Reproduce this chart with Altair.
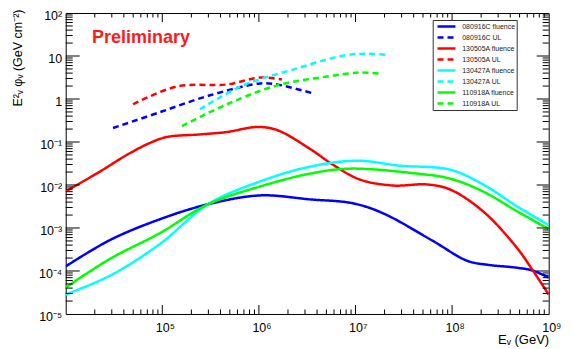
import altair as alt
import pandas as pd

W, H = 483, 301

series_names = ["080916C fluence", "080916C UL", "130505A fluence", "130505A UL",
                "130427A fluence", "130427A UL", "110918A fluence", "110918A UL"]
series_colors = ["#0000ff", "#0000ff", "#ff0000", "#ff0000",
                 "#00ffff", "#00ffff", "#00ff00", "#00ff00"]
series_dashes = [[1, 0], [6, 4], [1, 0], [6, 4], [1, 0], [6, 4], [1, 0], [6, 4]]

# ---- data (E in GeV, E^2 phi in GeV cm^-2) ----
e_080916C_fl = [1e4, 2.88e4, 9.46e4, 2.97e5, 1.03e6, 3.38e6, 9.42e6, 1.93e7, 6.34e7, 1.43e8, 2.30e8, 4.70e8, 6.87e8, 1e9]
f_080916C_fl = [1.28e-4, 5.26e-4, 1.60e-3, 3.56e-3, 5.73e-3, 4.63e-3, 3.75e-3, 2.20e-3, 4.99e-4, 1.73e-4, 1.40e-4, 1.19e-4, 1.02e-4, 7.0e-5]

e_080916C_ul = [3.09e4, 9.46e4, 3.12e5, 1.03e6, 1.54e6, 3.63e6]
f_080916C_ul = [0.211, 0.494, 1.22, 2.30, 2.18, 1.35]

e_130505A_fl = [1e4, 2.26e4, 4.32e4, 7.46e4, 1.12e5, 2.45e5, 4.68e5, 9.55e5, 1.54e6, 3.38e6, 5.85e6, 1.11e7, 2.44e7, 5.50e7, 9.51e7, 2.09e8, 4.70e8, 6.87e8, 1e9]
f_130505A_fl = [7.08e-3, 2.05e-2, 5.05e-2, 9.53e-2, 0.131, 0.150, 0.171, 0.223, 0.190, 6.93e-2, 2.96e-2, 1.34e-2, 9.73e-3, 1.03e-2, 7.87e-3, 2.45e-3, 3.44e-4, 1.02e-4, 2.84e-5]

e_130505A_ul = [4.98e4, 1.42e5, 4.68e5, 1.03e6, 1.73e6]
f_130505A_ul = [0.755, 1.96, 2.18, 3.16, 2.84]

e_130427A_fl = [1e4, 2.88e4, 9.46e4, 2.97e5, 1.03e6, 3.38e6, 1.04e7, 2.89e7, 9.51e7, 2.09e8, 4.70e8, 1e9]
f_130427A_fl = [2.84e-5, 7.80e-5, 4.26e-4, 3.56e-3, 1.21e-2, 2.67e-2, 3.67e-2, 2.81e-2, 2.28e-2, 1.03e-2, 3.20e-3, 1.17e-3]

e_130427A_ul = [2.45e5, 6.84e5, 2.25e6, 7.41e6, 1.32e7, 2.02e7]
f_130427A_ul = [0.579, 2.07, 4.83, 10.2, 11.3, 10.7]

e_110918A_fl = [1e4, 2.88e4, 9.46e4, 2.97e5, 1.03e6, 3.38e6, 8.77e6, 4.34e7, 9.51e7, 2.09e8, 4.70e8, 1e9]
f_110918A_fl = [4.12e-5, 1.92e-4, 7.62e-4, 3.56e-3, 9.23e-3, 1.84e-2, 2.40e-2, 1.84e-2, 1.41e-2, 7.08e-3, 2.45e-3, 9.44e-4]

e_110918A_ul = [1.60e5, 4.68e5, 1.54e6, 5.07e6, 1.11e7, 1.79e7]
f_110918A_ul = [0.235, 0.755, 2.07, 3.33, 4.12, 3.91]

# ---- axis ticks / labels ----
x_major = [1e5, 1e6, 1e7, 1e8]
x_label_values = [1e5, 1e6, 1e7, 1e8, 1e9]
x_tick_labels = ["10\u2075", "10\u2076", "10\u2077", "10\u2078", "10\u2079"]
x_decades = [1e4, 1e5, 1e6, 1e7, 1e8]
y_major = [1e-4, 1e-3, 1e-2, 1e-1, 1, 10]
y_label_values = [1e-5, 1e-4, 1e-3, 1e-2, 1e-1, 1, 10, 100]
y_tick_labels = ["10\u207b\u2075", "10\u207b\u2074", "10\u207b\u00b3", "10\u207b\u00b2",
                 "10\u207b\u00b9", "1", "10", "10\u00b2"]
y_decades = [1e-5, 1e-4, 1e-3, 1e-2, 1e-1, 1, 10]
minor_mult = [2, 3, 4, 5, 6, 7, 8, 9]
x_minor = [m * d for d in x_decades for m in minor_mult]
y_minor = [m * d for d in y_decades for m in minor_mult]

annot_text = ["Preliminary"]
annot_e = [1.87e4]
annot_f = [20.4]

FONT = "Liberation Sans"

# ---- build table ----
rows = []
pairs = [(e_080916C_fl, f_080916C_fl), (e_080916C_ul, f_080916C_ul),
         (e_130505A_fl, f_130505A_fl), (e_130505A_ul, f_130505A_ul),
         (e_130427A_fl, f_130427A_fl), (e_130427A_ul, f_130427A_ul),
         (e_110918A_fl, f_110918A_fl), (e_110918A_ul, f_110918A_ul)]
for i, (es, fs) in enumerate(pairs):
    for e, f in zip(es, fs):
        rows.append({"series": series_names[i], "order": i, "E": e, "flux": f})
df = pd.DataFrame(rows)

xscale = alt.Scale(type="log", domain=[1e4, 1e9], nice=False)
yscale = alt.Scale(type="log", domain=[1e-5, 1e2], nice=False)

x_label_expr = "[" + ",".join("'%s'" % s for s in x_tick_labels) + "][round(log(datum.value)/LN10)-5]"
y_label_expr = "[" + ",".join("'%s'" % s for s in y_tick_labels) + "][round(log(datum.value)/LN10)+5]"

x_axis = alt.Axis(
    values=x_label_values, labelExpr=x_label_expr, ticks=False, domain=False, grid=False,
    labelAlign="left", labelOffset=-7, labelPadding=8, labelFontSize=12.5, labelFont=FONT,
    labelColor="black", labelFlush=False, labelOverlap=False,
    title="E\u1d65 (GeV)", titleX=W, titleY=30, titleAlign="right",
    titleBaseline="alphabetic", titleFontSize=13, titleFontWeight="normal", titleFont=FONT,
    titleColor="black")
y_axis = alt.Axis(
    values=y_label_values, labelExpr=y_label_expr, ticks=False, domain=False, grid=False,
    labelPadding=4, labelFontSize=12.5, labelFont=FONT, labelColor="black",
    labelFlush=False, labelOverlap=False, labelOffset=2.5,
    title="E\u00b2\u1d65 \u03c6\u1d65 (GeV cm\u207b\u00b2)", titleX=-47.7, titleY=-4,
    titleAngle=-90, titleAlign="right", titleBaseline="middle", titleFontSize=12.5,
    titleFontWeight="normal", titleFont=FONT, titleColor="black")

nbsp = "\u00a0" * 12
legend = alt.Legend(
    title=None, orient="none", legendX=367, legendY=7,
    fillColor="white", strokeColor="#333333", padding=1,
    symbolType="M-2.32,0H2.32", symbolSize=60, symbolStrokeWidth=2.5,
    symbolOffset=7.3, labelOffset=10.25, labelFontSize=7, labelFont=FONT,
    labelColor="#222222", rowPadding=0,
    labelExpr="datum.label + '" + nbsp + "'",
)

lines = alt.Chart(df).mark_line(strokeWidth=2.5, interpolate="catmull-rom", clip=True).encode(
    x=alt.X("E:Q", scale=xscale, axis=x_axis),
    y=alt.Y("flux:Q", scale=yscale, axis=y_axis),
    color=alt.Color("series:N", scale=alt.Scale(domain=series_names, range=series_colors), legend=legend),
    strokeDash=alt.StrokeDash("series:N", scale=alt.Scale(domain=series_names, range=series_dashes), legend=legend),
    order=alt.Order("E:Q"),
    detail="order:O",
)


def xticks(vals, y0, y1):
    return alt.Chart(pd.DataFrame({"E": vals})).mark_rule(color="black", strokeWidth=1).encode(
        x=alt.X("E:Q", scale=xscale, axis=x_axis), y=alt.value(y0), y2=alt.value(y1))


def yticks(vals, x0, x1):
    return alt.Chart(pd.DataFrame({"flux": vals})).mark_rule(color="black", strokeWidth=1).encode(
        y=alt.Y("flux:Q", scale=yscale, axis=y_axis), x=alt.value(x0), x2=alt.value(x1))


tick_layers = [
    xticks(x_major, H, H - 9), xticks(x_minor, H, H - 4.5),
    xticks(x_major, 0, 9), xticks(x_minor, 0, 4.5),
    yticks(y_major, 0, 14), yticks(y_minor, 0, 7),
    yticks(y_major, W, W - 12), yticks(y_minor, W, W - 6),
]

annot = alt.Chart(pd.DataFrame({"text": annot_text, "E": annot_e, "flux": annot_f})).mark_text(
    align="left", baseline="alphabetic", font=FONT, fontSize=18, fontWeight="bold", color="#ff1a1a"
).encode(
    x=alt.X("E:Q", scale=xscale, axis=x_axis),
    y=alt.Y("flux:Q", scale=yscale, axis=y_axis),
    text="text:N",
)

chart = alt.layer(lines, *tick_layers, annot).properties(
    width=W, height=H,
    autosize=alt.AutoSizeParams(type="none"),
    padding={"left": 57.7, "top": 5, "right": 16, "bottom": 35},
    background="white",
).configure_view(stroke="black", strokeWidth=1)

chart.save("out.html", embed_options={"renderer": "svg", "actions": False})
